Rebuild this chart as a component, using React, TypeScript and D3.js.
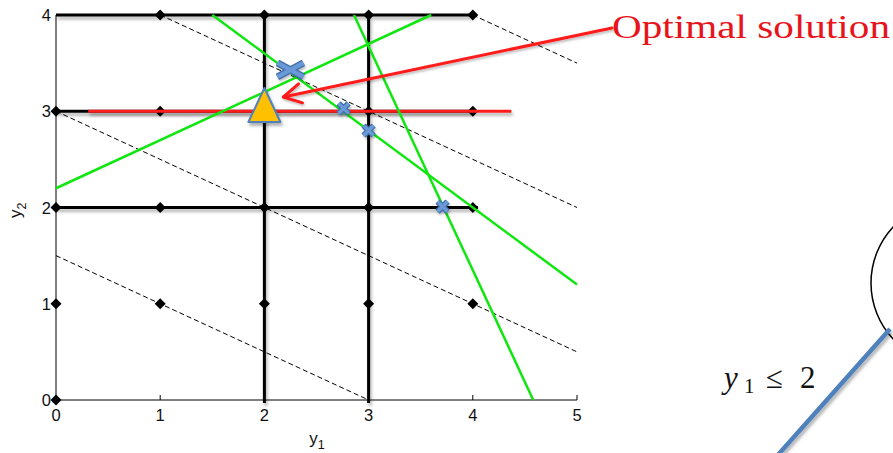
import React from "react";
import * as d3 from "d3";

const W = 893;
const H = 453;

// axis ticks
const xTicks = [0, 1, 2, 3, 4, 5];
const yTicks = [0, 1, 2, 3, 4];

// objective contours: y1 + 2*y2 = c
const objectiveLevels = [3, 6, 9, 12];

// branching constraints drawn as thick black segments
const branchRows = [
  { y2: 4, from: 0, to: 4 },
  { y2: 3, from: 0, to: 4 },
  { y2: 2, from: 0, to: 4.05 },
];
const branchCols = [
  { y1: 2, from: -0.03, to: 4 },
  { y1: 3, from: -0.03, to: 4 },
];

// integer lattice points
const latticePoints: [number, number][] = [
  [0, 0],
  [0, 1], [1, 1], [2, 1], [3, 1], [4, 1],
  [0, 2], [1, 2], [2, 2], [3, 2], [4, 2],
  [0, 3], [1, 3], [2, 3], [3, 3], [4, 3],
  [1, 4], [2, 4], [3, 4], [4, 4],
];

// cutting planes (green), each given by two end points (y1, y2)
const cuts: [number, number][][] = [
  [[0, 2.2], [3.6, 4]],
  [[1.5, 4], [5, 1.2]],
  [[2.86, 4], [4.58, 0]],
];

// incumbent bound y2 = 3 (red)
const incumbentRow = { y2: 3, from: 0.31, to: 4.37 };

// relaxation solutions (blue crosses)
const candidates = [
  { y1: 2, y2: 3, big: false },
  { y1: 2.25, y2: 3.43, big: true },
  { y1: 2.76, y2: 3.03, big: false },
  { y1: 3, y2: 2.8, big: false },
  { y1: 3.71, y2: 2.01, big: false },
];

const optimum = { y1: 2, y2: 3.2 };

const x = d3.scaleLinear().domain([0, 5]).range([56, 577]);
const y = d3.scaleLinear().domain([0, 4]).range([400, 15]);

const line = d3
  .line<[number, number]>()
  .x((d) => x(d[0]))
  .y((d) => y(d[1]));

const BLUE = "#4f81bd";
const GREEN = "#10e610";
const RED = "#ff1a1a";
const SERIF = "'Liberation Serif', 'Times New Roman', serif";

function Cross({ cx, cy, big }: { cx: number; cy: number; big: boolean }) {
  const dx = big ? 13 : 5;
  const dy = big ? 7 : 5;
  const segs = [
    [cx - dx, cy - dy, cx + dx, cy + dy],
    [cx - dx, cy + dy, cx + dx, cy - dy],
  ];
  return (
    <g filter="url(#soft)">
      {segs.map((s, i) => (
        <line key={"o" + i} x1={s[0]} y1={s[1]} x2={s[2]} y2={s[3]} stroke="#3f6fa8" strokeWidth={big ? 7 : 6} />
      ))}
      {segs.map((s, i) => (
        <line key={"i" + i} x1={s[0]} y1={s[1]} x2={s[2]} y2={s[3]} stroke="#6a99d8" strokeWidth={big ? 4.5 : 3.5} />
      ))}
    </g>
  );
}

export default function App() {
  const ox = x(optimum.y1);
  const oy = y(optimum.y2);
  const tip: [number, number] = [ox + 19, oy + 5];
  const tail: [number, number] = [612, 28];
  const ang = Math.atan2(tail[1] - tip[1], tail[0] - tip[0]);
  const barb = 20;
  const spread = (29 * Math.PI) / 180;
  const b1: [number, number] = [tip[0] + barb * Math.cos(ang - spread), tip[1] + barb * Math.sin(ang - spread)];
  const b2: [number, number] = [tip[0] + barb * Math.cos(ang + spread), tip[1] + barb * Math.sin(ang + spread)];

  return (
    <svg
      width={W}
      height={H}
      viewBox={`0 0 ${W} ${H}`}
      style={{ position: "absolute", left: 0, top: 0, background: "#fff" }}
    >
      <defs>
        <filter id="shadow" filterUnits="userSpaceOnUse" x={0} y={0} width={W} height={H}>
          <feDropShadow dx="1.5" dy="3" stdDeviation="1.6" floodColor="#000" floodOpacity="0.3" />
        </filter>
        <filter id="soft" filterUnits="userSpaceOnUse" x={0} y={0} width={W} height={H}>
          <feDropShadow dx="1" dy="2" stdDeviation="1" floodColor="#000" floodOpacity="0.25" />
        </filter>
      </defs>

      {/* axes */}
      <g stroke="#000" strokeWidth={1} fill="none">
        <line x1={x(0)} y1={y(0)} x2={x(5)} y2={y(0)} />
        <line x1={x(0)} y1={y(0)} x2={x(0)} y2={y(4)} />
        {xTicks.map((t) => (
          <line key={"xt" + t} x1={x(t)} y1={y(0)} x2={x(t)} y2={y(0) - 5} />
        ))}
        {yTicks.map((t) => (
          <line key={"yt" + t} x1={x(0)} y1={y(t)} x2={x(0) + 5} y2={y(t)} />
        ))}
      </g>
      <g fontFamily="'Liberation Sans', Arial, sans-serif" fontSize={16.5} fill="#111">
        {xTicks.map((t) => (
          <text key={"xl" + t} x={x(t)} y={y(0) + 21} textAnchor="middle">
            {t}
          </text>
        ))}
        {yTicks.map((t) => (
          <text key={"yl" + t} x={x(0) - 5} y={y(t) + 6} textAnchor="end">
            {t}
          </text>
        ))}
        <text x={x(2.43)} y={444} fontSize={17}>
          y<tspan fontSize={12.5} dy={5}>1</tspan>
        </text>
        <text transform={`translate(21, ${y(1.97)}) rotate(-90)`} fontSize={17} textAnchor="middle">
          y<tspan fontSize={12.5} dy={5}>2</tspan>
        </text>
      </g>

      {/* objective contours */}
      <g stroke="#000" strokeWidth={1} strokeDasharray="5,3" fill="none">
        {objectiveLevels.map((c) => {
          const a = Math.max(0, c - 8);
          const b = Math.min(5, c);
          return <path key={"c" + c} d={line([[a, (c - a) / 2], [b, (c - b) / 2]]) ?? ""} />;
        })}
      </g>

      {/* branching constraints */}
      <g stroke="#000" strokeWidth={3} filter="url(#shadow)">
        {branchRows.map((r) => (
          <line key={"r" + r.y2} x1={x(r.from)} y1={y(r.y2)} x2={x(r.to)} y2={y(r.y2)} />
        ))}
        {branchCols.map((c) => (
          <line key={"k" + c.y1} x1={x(c.y1)} y1={y(c.from)} x2={x(c.y1)} y2={y(c.to)} />
        ))}
      </g>

      {/* lattice points */}
      <g fill="#000">
        {latticePoints.map(([a, b]) => {
          const px = x(a);
          const py = y(b);
          return (
            <path
              key={`p${a}-${b}`}
              d={`M${px},${py - 5.5}L${px + 5.5},${py}L${px},${py + 5.5}L${px - 5.5},${py}Z`}
            />
          );
        })}
      </g>

      {/* incumbent bound */}
      <line
        x1={x(incumbentRow.from)}
        y1={y(incumbentRow.y2)}
        x2={x(incumbentRow.to)}
        y2={y(incumbentRow.y2)}
        stroke={RED}
        strokeWidth={3}
        filter="url(#shadow)"
      />

      {/* cutting planes */}
      <g stroke={GREEN} strokeWidth={2.5} fill="none">
        {cuts.map((c, i) => (
          <path key={"g" + i} d={line(c) ?? ""} />
        ))}
      </g>

      {/* relaxation solutions */}
      {candidates.map((c, i) => (
        <Cross key={"x" + i} cx={x(c.y1)} cy={y(c.y2)} big={c.big} />
      ))}

      {/* optimal point */}
      <polygon
        points={`${ox},${oy - 4} ${ox - 16},${oy + 30} ${ox + 16},${oy + 30}`}
        fill="#ffc000"
        stroke={BLUE}
        strokeWidth={2}
        strokeLinejoin="round"
        filter="url(#shadow)"
      />

      {/* annotation */}
      <g stroke={RED} strokeWidth={3} fill="none" strokeLinecap="round" strokeLinejoin="round" filter="url(#soft)">
        <line x1={tail[0]} y1={tail[1]} x2={tip[0]} y2={tip[1]} />
        <polyline points={`${b1[0]},${b1[1]} ${tip[0]},${tip[1]} ${b2[0]},${b2[1]}`} />
      </g>
      <text
        x={612}
        y={38}
        fill="#e8141c"
        fontFamily={SERIF}
        fontSize={34}
        textLength={278}
        lengthAdjust="spacingAndGlyphs"
      >
        Optimal solution
      </text>

      {/* branch node and edge */}
      <circle cx={953} cy={283} r={82} fill="none" stroke="#000" strokeWidth={1.5} />
      <line x1={890} y1={329} x2={777} y2={456} stroke={BLUE} strokeWidth={4.5} filter="url(#shadow)" />
      <g fontFamily={SERIF} fill="#111">
        <text x={724} y={388} fontSize={31} fontStyle="italic">y</text>
        <text x={744} y={393} fontSize={21}>1</text>
        <text x={766} y={388} fontSize={31}>{"\u2264"}</text>
        <text x={800} y={388} fontSize={31}>2</text>
      </g>
    </svg>
  );
}
